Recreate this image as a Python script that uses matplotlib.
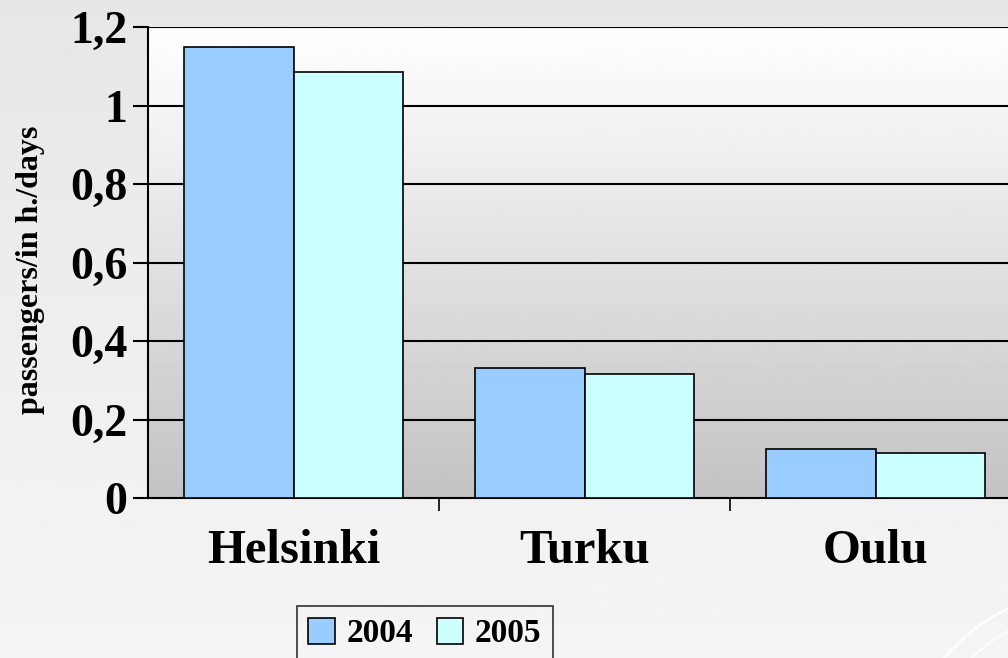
import matplotlib

matplotlib.use("Agg")
import matplotlib.pyplot as plt
import numpy as np
from matplotlib.patches import Arc, Patch

plt.rcParams.update({
    "font.family": ["Liberation Serif", "DejaVu Serif"],
    "font.weight": "bold",
})

cities = ["Helsinki", "Turku", "Oulu"]
years = ["2004", "2005"]
vals_2004 = [1.15, 0.33, 0.125]
vals_2005 = [1.085, 0.315, 0.115]
yticks = [0, 0.2, 0.4, 0.6, 0.8, 1.0, 1.2]
ytick_labels = ["0", "0,2", "0,4", "0,6", "0,8", "1", "1,2"]

C04 = "#99ccff"
C05 = "#ccffff"

W, H = 1008, 658
fig = plt.figure(figsize=(W / 100, H / 100), dpi=100)

# slide background in pixel units: light grey, lighter towards the bottom
bg = fig.add_axes([0, 0, 1, 1], zorder=-10)
bg.imshow(np.linspace(0.905, 0.96, 256)[:, None], cmap="gray", vmin=0, vmax=1,
          aspect="auto", extent=(0, W, H, 0))
# faint white swooshes in the bottom-right corner
for r, lw in ((190, 1.8), (170, 1.4)):
    bg.add_patch(Arc((1090, 780), 2 * r, 2 * r, theta1=180, theta2=270,
                     color="white", lw=lw, alpha=0.9))
bg.set_xlim(0, W)
bg.set_ylim(H, 0)
bg.axis("off")

ax = fig.add_axes([148 / W, 1 - 498 / H, 873 / W, 471 / H])
ax.set_xlim(-0.5, 2.5)
ax.set_ylim(0, 1.2)

# plot area gradient white -> grey
ax.imshow(np.linspace(1.0, 0.765, 256)[:, None], cmap="gray", vmin=0, vmax=1,
          aspect="auto", extent=(-0.5, 2.5, 0, 1.2), origin="upper", zorder=0)

x = np.arange(len(cities))
w = 0.378
ax.bar(x - w / 2, vals_2004, w, color=C04, edgecolor="black", lw=1.2,
       label=years[0], zorder=3)
ax.bar(x + w / 2, vals_2005, w, color=C05, edgecolor="black", lw=1.2,
       label=years[1], zorder=3)

for y in yticks[1:]:
    ax.axhline(y, color="black", lw=1.5, zorder=1)

ax.set_yticks(yticks)
ax.set_yticklabels(ytick_labels, fontsize=33, fontweight="bold")
ax.tick_params(axis="y", length=11, width=1.5, pad=4)

ax.set_xticks([0.5, 1.5, 2.5], minor=True)
ax.set_xticks(x)
ax.set_xticklabels(cities, fontsize=35, fontweight="bold")
ax.tick_params(axis="x", which="major", length=0, pad=22)
ax.tick_params(axis="x", which="minor", length=9, width=1.2)

for s in ("top", "right"):
    ax.spines[s].set_visible(False)
ax.spines["left"].set_linewidth(1.5)
ax.spines["bottom"].set_linewidth(1.5)

fig.text(31 / W, 1 - 270 / H, "passengers/in h./days", rotation=90,
         ha="center", va="center", fontsize=23, fontweight="bold")

handles = [Patch(fc=C04, ec="black", lw=1.2), Patch(fc=C05, ec="black", lw=1.2)]
leg = fig.legend(handles, years, loc="lower left",
                 bbox_to_anchor=(280 / W, -0.03), ncol=2,
                 frameon=True, fancybox=False, handlelength=0.8,
                 handleheight=0.8, handletextpad=0.35, columnspacing=0.7,
                 borderpad=0.35, prop={"weight": "bold", "size": 24})
leg.get_frame().set_edgecolor("black")
leg.get_frame().set_facecolor("none")
leg.get_frame().set_linewidth(1.2)

fig.savefig("out.png", dpi=100)
